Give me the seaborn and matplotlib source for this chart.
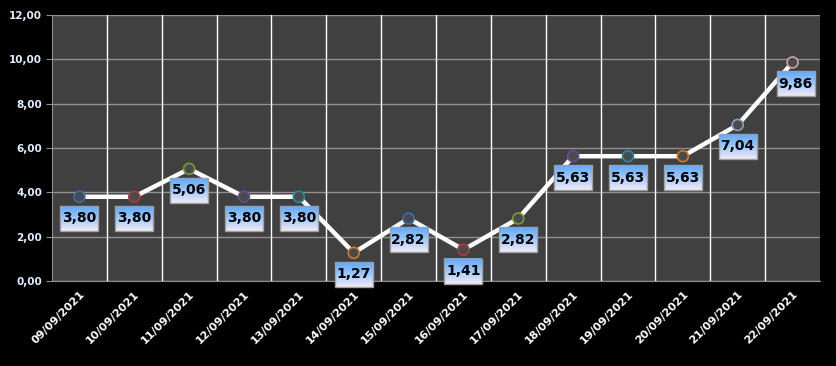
import matplotlib
matplotlib.use("Agg")
import matplotlib.pyplot as plt
import seaborn as sns
import numpy as np
import pandas as pd
from matplotlib.colors import LinearSegmentedColormap
from matplotlib.patches import Rectangle

dates = ["09/09/2021", "10/09/2021", "11/09/2021", "12/09/2021", "13/09/2021",
         "14/09/2021", "15/09/2021", "16/09/2021", "17/09/2021", "18/09/2021",
         "19/09/2021", "20/09/2021", "21/09/2021", "22/09/2021"]
values = [3.80, 3.80, 5.06, 3.80, 3.80, 1.27, 2.82, 1.41, 2.82, 5.63, 5.63, 5.63, 7.04, 9.86]
edge_colors = ["#3a6fb0", "#b03a3a", "#7a9a3a", "#6a4a90", "#2a8a9a", "#d07a2a", "#3a6fb0",
               "#b03a3a", "#7a9a3a", "#6a4a90", "#2a8a9a", "#d07a2a", "#8aa0c0", "#d0a0a8"]
yticks = [0, 2, 4, 6, 8, 10, 12]

df = pd.DataFrame({"date": dates, "value": values})
df["pos"] = range(len(df))

sns.set_style("dark")
fig = plt.figure(figsize=(8.37, 3.66), dpi=100, facecolor="black")
ax = fig.add_axes([52 / 837, 1 - 281 / 366, 768 / 837, 266 / 366])
ax.set_facecolor("#404040")

sns.lineplot(data=df, x="pos", y="value", color="white", linewidth=3.2, ax=ax, zorder=3)
ax.scatter(df["pos"], df["value"], s=62, c="#4a4a4a", edgecolors=edge_colors,
           linewidths=1.2, zorder=4)

ax.set_xlim(-0.5, len(dates) - 0.5)
ax.set_ylim(0, 12)

# gradient label boxes, sized in pixels below each point
grad = LinearSegmentedColormap.from_list("lbl", ["#f2eaf8", "#9ccaff", "#5ea8ff"])
gimg = np.linspace(0, 1, 50).reshape(-1, 1)
inv = ax.transData.inverted()
for x, y in zip(df["pos"], df["value"]):
    px, py = ax.transData.transform((x, y))
    cx = px + (3 if x == len(dates) - 1 else 0)
    (x0, y0) = inv.transform((cx - 19, py - 34))
    (x1, y1) = inv.transform((cx + 19, py - 9))
    ax.imshow(gimg, cmap=grad, origin="lower", extent=[x0, x1, y0, y1],
              aspect="auto", zorder=5, interpolation="bilinear", clip_on=False)
    ax.add_patch(Rectangle((x0, y0), x1 - x0, y1 - y0, facecolor="none",
                           edgecolor="#a0a0a0", linewidth=1, zorder=6, clip_on=False))
    ax.text((x0 + x1) / 2, (y0 + y1) / 2, f"{y:.2f}".replace(".", ","),
            ha="center", va="center", fontsize=10, fontweight="bold",
            color="black", zorder=7, clip_on=False)

ax.set_xlim(-0.5, len(dates) - 0.5)
ax.set_ylim(0, 12)
ax.set_yticks(yticks)
ax.set_yticklabels([f"{v:.2f}".replace(".", ",") for v in yticks],
                   color="#e0eeff", fontsize=7.5, fontweight="bold")
ax.set_xticks(range(len(dates)))
ax.set_xticklabels(dates, rotation=45, ha="right", rotation_mode="anchor",
                   color="white", fontsize=8, fontweight="bold")
ax.set_xticks([i + 0.5 for i in range(-1, len(dates))], minor=True)
ax.tick_params(axis="x", which="major", length=0, pad=6)
ax.tick_params(axis="x", which="minor", length=4, color="#909090")
ax.tick_params(axis="y", length=4, color="#909090", left=True, pad=3)

ax.grid(False)
ax.yaxis.grid(True, color="#909090", linewidth=1)
for xv in [i + 0.5 for i in range(len(dates) - 1)]:
    ax.axvline(xv, color="white", linewidth=1, zorder=1)
for s in ["top", "right"]:
    ax.spines[s].set_visible(False)
for s in ["left", "bottom"]:
    ax.spines[s].set_color("#909090")
ax.set_xlabel("")
ax.set_ylabel("")

fig.savefig("out.png", dpi=100, facecolor="black")
